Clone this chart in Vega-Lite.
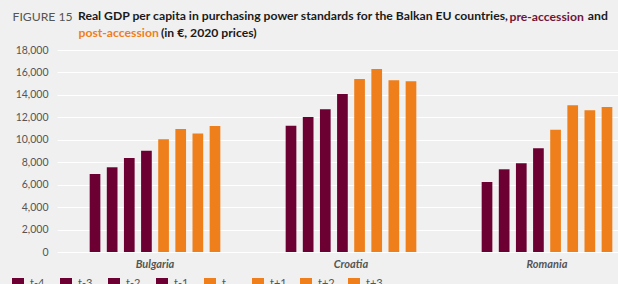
{
  "$schema": "https://vega.github.io/schema/vega-lite/v6.json",
  "width": 561,
  "height": 202,
  "autosize": {"type": "none"},
  "padding": {"left": 57, "top": 50, "right": 0, "bottom": 32},
  "background": "#F0F0F0",
  "config": {"view": {"stroke": null}, "font": "Lato"},
  "title": {
    "text": ["Real GDP per capita in purchasing power standards for the Balkan EU countries,\u00a0\u00a0\u00a0\u00a0\u00a0\u00a0\u00a0\u00a0\u00a0\u00a0\u00a0\u00a0\u00a0\u00a0\u00a0\u00a0\u00a0\u00a0\u00a0\u00a0\u00a0\u00a0\u00a0\u00a0\u00a0\u00a0\u00a0and", "\u200b\u00a0\u00a0\u00a0\u00a0\u00a0\u00a0\u00a0\u00a0\u00a0\u00a0\u00a0\u00a0\u00a0\u00a0\u00a0\u00a0\u00a0\u00a0\u00a0\u00a0\u00a0\u00a0\u00a0\u00a0\u00a0\u00a0\u00a0\u00a0(in €, 2020 prices)"],
    "anchor": "start",
    "frame": "group",
    "dx": 21,
    "dy": 33,
    "font": "Lato",
    "fontSize": 12.2,
    "fontWeight": "bold",
    "color": "#1a1a1a",
    "lineHeight": 16.5,
    "offset": 4
  },
  "data": {
    "values": [
      {"country": "Bulgaria", "period": "t-4", "gdp": 6950},
      {"country": "Bulgaria", "period": "t-3", "gdp": 7550},
      {"country": "Bulgaria", "period": "t-2", "gdp": 8380},
      {"country": "Bulgaria", "period": "t-1", "gdp": 9030},
      {"country": "Bulgaria", "period": "t", "gdp": 10040},
      {"country": "Bulgaria", "period": "t+1", "gdp": 10960},
      {"country": "Bulgaria", "period": "t+2", "gdp": 10550},
      {"country": "Bulgaria", "period": "t+3", "gdp": 11230},
      {"country": "Croatia", "period": "t-4", "gdp": 11260},
      {"country": "Croatia", "period": "t-3", "gdp": 12030},
      {"country": "Croatia", "period": "t-2", "gdp": 12720},
      {"country": "Croatia", "period": "t-1", "gdp": 14080},
      {"country": "Croatia", "period": "t", "gdp": 15420},
      {"country": "Croatia", "period": "t+1", "gdp": 16310},
      {"country": "Croatia", "period": "t+2", "gdp": 15300},
      {"country": "Croatia", "period": "t+3", "gdp": 15210},
      {"country": "Romania", "period": "t-4", "gdp": 6240},
      {"country": "Romania", "period": "t-3", "gdp": 7370},
      {"country": "Romania", "period": "t-2", "gdp": 7900},
      {"country": "Romania", "period": "t-1", "gdp": 9240},
      {"country": "Romania", "period": "t", "gdp": 10900},
      {"country": "Romania", "period": "t+1", "gdp": 13070},
      {"country": "Romania", "period": "t+2", "gdp": 12630},
      {"country": "Romania", "period": "t+3", "gdp": 12920}
    ]
  },
  "layer": [
    {
      "mark": {"type": "bar"},
      "encoding": {
        "x": {
          "field": "country",
          "type": "nominal",
          "sort": ["Bulgaria", "Croatia", "Romania"],
          "scale": {"range": [0, 588], "paddingInner": 0.1584, "paddingOuter": 0.0792},
          "axis": {
            "title": "post-accession",
            "titleX": 21,
            "titleY": -215.5,
            "titleAlign": "left",
            "titleAnchor": null,
            "titleBaseline": "alphabetic",
            "titleFont": "Lato",
            "titleFontSize": 12.2,
            "titleFontWeight": "bold",
            "titleColor": "#EE7F1B",
            "labelAngle": 0,
            "labelFont": "Lato",
            "labelFontStyle": "italic",
            "labelFontWeight": "bold",
            "labelFontSize": 11,
            "labelColor": "#555555",
            "labelPadding": 6,
            "ticks": false,
            "domain": false
          }
        },
        "xOffset": {
          "field": "period",
          "type": "nominal",
          "sort": ["t-4", "t-3", "t-2", "t-1", "t", "t+1", "t+2", "t+3"],
          "scale": {"paddingInner": 0.376, "paddingOuter": 1}
        },
        "y": {
          "field": "gdp",
          "type": "quantitative",
          "scale": {"domain": [0, 18000]},
          "axis": {
            "values": [0, 2000, 4000, 6000, 8000, 10000, 12000, 14000, 16000, 18000],
            "format": ",d",
            "labelFont": "Lato",
            "labelFontSize": 10.5,
            "labelColor": "#555555",
            "labelPadding": 9,
            "ticks": false,
            "domain": false,
            "grid": true,
            "gridColor": "#FFFFFF",
            "gridWidth": 1,
            "title": "FIGURE 15",
            "titleAngle": 0,
            "titleAlign": "left",
            "titleBaseline": "alphabetic",
            "titleX": -45,
            "titleY": -30,
            "titleFont": "Lato",
            "titleFontSize": 12.2,
            "titleFontWeight": "normal",
            "titleColor": "#555555"
          }
        },
        "color": {
          "field": "period",
          "type": "nominal",
          "scale": {
            "domain": ["t-4", "t-3", "t-2", "t-1", "t", "t+1", "t+2", "t+3"],
            "range": ["#6D0032", "#6D0032", "#6D0032", "#6D0032", "#EE7F1B", "#EE7F1B", "#EE7F1B", "#EE7F1B"]
          },
          "legend": {
            "title": null,
            "orient": "none",
            "legendX": -45,
            "legendY": 228,
            "direction": "horizontal",
            "columns": 8,
            "gridAlign": "all",
            "symbolType": "square",
            "symbolSize": 144,
            "symbolStrokeWidth": 0,
            "symbolOpacity": 1,
            "labelFont": "Lato",
            "labelFontSize": 11,
            "labelColor": "#555555",
            "labelOffset": 6,
            "columnPadding": 13,
            "padding": 0
          }
        }
      }
    },
    {
      "mark": {"type": "rule", "opacity": 0},
      "encoding": {
        "y": {
          "field": "gdp",
          "type": "quantitative",
          "scale": {"domain": [0, 18000]},
          "axis": {
            "orient": "right",
            "labels": false,
            "ticks": false,
            "domain": false,
            "grid": false,
            "title": "pre-accession",
            "titleAngle": 0,
            "titleAlign": "left",
            "titleBaseline": "alphabetic",
            "titleX": -109,
            "titleY": -30,
            "titleFont": "Lato",
            "titleFontSize": 12.2,
            "titleFontWeight": "bold",
            "titleColor": "#701538"
          }
        }
      }
    }
  ],
  "resolve": {"scale": {"y": "independent"}}
}
